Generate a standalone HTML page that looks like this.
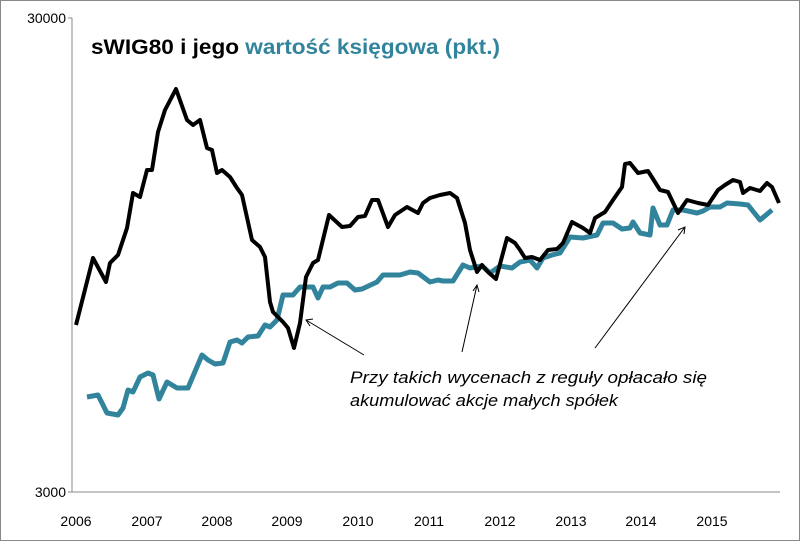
<!DOCTYPE html>
<html><head><style>
body{margin:0;background:#fff}
svg{display:block;font-family:"Liberation Sans",sans-serif}
</style></head><body>
<svg width="800" height="541" viewBox="0 0 800 541">
<rect x="0.5" y="0.5" width="799" height="540" fill="#fff" stroke="#888"/>
<line x1="72" y1="18" x2="72" y2="492" stroke="#888"/>
<line x1="72" y1="492" x2="780" y2="492" stroke="#888"/>
<line x1="68" y1="18" x2="72" y2="18" stroke="#888"/>
<line x1="68" y1="492" x2="72" y2="492" stroke="#888"/>
<g font-size="14" fill="#000" text-anchor="end">
<text x="66" y="23">30000</text><text x="66" y="497">3000</text></g>
<g font-size="14" fill="#000" text-anchor="middle">
<text x="76" y="526">2006</text><text x="147" y="526">2007</text><text x="217" y="526">2008</text><text x="287" y="526">2009</text><text x="358" y="526">2010</text><text x="429" y="526">2011</text><text x="500" y="526">2012</text><text x="571" y="526">2013</text><text x="641" y="526">2014</text><text x="712" y="526">2015</text></g>
<text x="91" y="54" font-size="21" font-weight="bold" fill="#000" textLength="409" lengthAdjust="spacingAndGlyphs">sWIG80 i jego <tspan fill="#31849B">wartość księgowa (pkt.)</tspan></text>
<polyline fill="none" stroke="#31849B" stroke-width="5" stroke-linejoin="round" points="87,397 98,395 107,413 118,415 123,408 128,390 133,392 140,377 148,373 153,375 159,399 167,382 177,388 188,388 202,355 208,360 215,364 223,363 230,342 237,340 242,343 248,337 258,336 265,325 270,327 277,320 283,295 293,295 300,287 313,287 318,298 323,287 330,287 338,283 347,283 355,290 362,289 377,282 383,275 400,275 410,272 418,273 430,282 438,280 443,281 453,281 463,265 470,268 482,266 490,273 500,266 512,268 520,262 530,260 537,268 543,258 552,255 560,253 570,237 583,238 597,235 603,223 613,223 622,229 630,228 633,222 640,233 650,235 653,208 660,225 667,225 673,210 683,210 697,213 703,211 710,207 720,207 727,203 740,204 748,205 760,220 772,210"/>
<polyline fill="none" stroke="#000" stroke-width="4" stroke-linejoin="round" points="76,325 93,258 106,282 110,263 118,255 127,228 133,193 140,197 147,170 152,170 158,132 165,110 176,89 187,120 193,125 200,120 207,148 212,150 217,173 222,170 230,177 237,188 242,195 252,240 260,247 265,257 270,302 273,312 283,322 288,328 294,348 300,323 306,277 313,263 318,260 329,215 342,227 350,226 358,217 365,216 372,200 378,200 388,227 395,215 407,207 418,213 423,203 430,198 440,195 450,193 457,198 465,223 470,250 477,272 482,265 488,272 496,279 507,238 515,243 520,250 525,258 532,257 540,260 548,250 557,249 563,243 572,222 583,228 590,233 595,218 605,212 613,200 622,187 625,164 630,163 638,173 648,171 660,190 668,192 678,213 687,200 698,203 708,205 718,190 725,185 733,180 740,182 743,193 750,188 760,191 767,183 772,187 779,203"/>
<g stroke="#000" stroke-width="1" fill="none">
<line x1="364" y1="355" x2="306" y2="320"/><polyline points="313,319 306,320 310,326"/>
<line x1="462" y1="352" x2="477" y2="285"/><polyline points="473,291 477,285 479,292"/>
<line x1="595" y1="348" x2="685" y2="227"/><polyline points="678,230 685,227 684,234"/>
</g>
<g font-size="17" font-style="italic" fill="#000">
<text x="350" y="383" textLength="357" lengthAdjust="spacingAndGlyphs">Przy takich wycenach z reguły opłacało się</text>
<text x="350" y="406" textLength="268" lengthAdjust="spacingAndGlyphs">akumulować akcje małych spółek</text></g>
</svg>
</body></html>
